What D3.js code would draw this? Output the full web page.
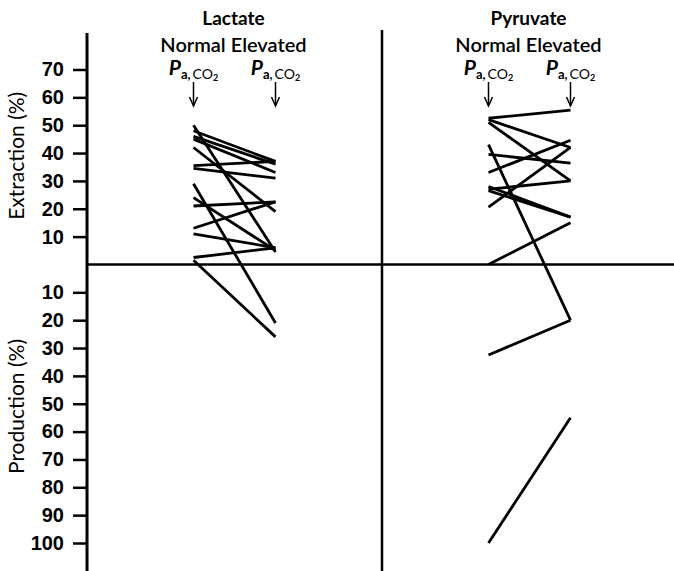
<!DOCTYPE html>
<html>
<head>
<meta charset="utf-8">
<script src="https://cdn.jsdelivr.net/npm/d3@7"></script>
<style>
  body { margin: 0; background: #fff; }
  svg { display: block; font-family: Lato, "Open Sans", sans-serif; }
</style>
</head>
<body>
<svg id="chart"></svg>
<script>
// Dữ liệu
const panels = ["Lactate", "Pyruvate"];
const conditions = ["Normal", "Elevated"];

const lactateNormal   = [50, 48, 46, 45, 42, 35.5, 34.5, 29, 24, 21, 13, 11, 2.5, 1.5];
const lactateElevated = [4.5, 37, 36, 33, 19, 37, 31, -21, 5, 22.5, 22.5, 6, 6, -26];

const pyruvateNormal   = [52.5, 52, 51, 43, 39.5, 33, 28, 26.5, 27, 20.6, 0, -32.5, -100];
const pyruvateElevated = [55.4, 42, 30, -20, 36.4, 44.6, 17, 17, 30, 42, 15, -20, -55];

const extractionTicks = [10, 20, 30, 40, 50, 60, 70];
const productionTicks = [-10, -20, -30, -40, -50, -60, -70, -80, -90, -100];

const width = 674, height = 571;
const axisX = 87, axisTop = 33;

const svg = d3.select("#chart")
    .attr("width", width)
    .attr("height", height);

// Thang đo
const y = d3.scaleLinear()
    .domain([-100, 70])
    .range([543, 69.5]);

const xPanel = d3.scaleBand()
    .domain(panels)
    .range([axisX, axisX + 590]);

const xCond = d3.scalePoint()
    .domain(conditions)
    .range([xPanel.bandwidth() / 2 - 41, xPanel.bandwidth() / 2 + 41]);

// Trục trái
const yAxis = d3.axisLeft(y)
    .tickValues(extractionTicks.concat(productionTicks))
    .tickFormat(d => Math.abs(d))
    .tickSize(14)
    .tickPadding(9);

const gAxis = svg.append("g")
    .attr("transform", `translate(${axisX},0)`)
    .call(yAxis);
gAxis.select(".domain").remove();
gAxis.selectAll(".tick line").attr("stroke", "#000").attr("stroke-width", 2.5);
gAxis.selectAll(".tick text")
    .attr("fill", "#000")
    .style("font-size", "20px")
    .style("font-weight", "bold");

svg.append("line")
    .attr("x1", axisX).attr("x2", axisX)
    .attr("y1", axisTop).attr("y2", height)
    .attr("stroke", "#000").attr("stroke-width", 3);

// Đường chia giữa
svg.append("line")
    .attr("x1", xPanel("Pyruvate")).attr("x2", xPanel("Pyruvate"))
    .attr("y1", 30).attr("y2", height)
    .attr("stroke", "#000").attr("stroke-width", 2.5);

// Đường 0
svg.append("line")
    .attr("x1", axisX).attr("x2", width)
    .attr("y1", y(0)).attr("y2", y(0))
    .attr("stroke", "#000").attr("stroke-width", 2.5);

// Tên trục
svg.append("text")
    .attr("transform", `translate(24,${y(39)}) rotate(-90)`)
    .attr("text-anchor", "middle")
    .style("font-size", "21px")
    .text("Extraction (%)");

svg.append("text")
    .attr("transform", `translate(24,${y(-51)}) rotate(-90)`)
    .attr("text-anchor", "middle")
    .style("font-size", "21px")
    .text("Production (%)");

// Các đường dốc
const series = {
    Lactate: [lactateNormal, lactateElevated],
    Pyruvate: [pyruvateNormal, pyruvateElevated]
};

panels.forEach(p => {
    const g = svg.append("g").attr("transform", `translate(${xPanel(p)},0)`);
    const [nv, ev] = series[p];
    const cx = xPanel.bandwidth() / 2;

    g.selectAll("line.slope")
        .data(nv.map((v, i) => ({ n: v, e: ev[i] })))
        .enter()
        .append("line")
        .attr("class", "slope")
        .attr("x1", xCond("Normal"))
        .attr("x2", xCond("Elevated"))
        .attr("y1", d => y(d.n))
        .attr("y2", d => y(d.e))
        .attr("stroke", "#000")
        .attr("stroke-width", 2.8);

    // Tiêu đề
    g.append("text")
        .attr("x", cx - 1).attr("y", 25)
        .attr("text-anchor", "middle")
        .style("font-size", "19px")
        .style("font-weight", "bold")
        .text(p);

    g.append("text")
        .attr("x", cx - 1).attr("y", 52)
        .attr("text-anchor", "middle")
        .style("font-size", "20px")
        .style("font-weight", "600")
        .text("Normal Elevated");

    conditions.forEach(c => {
        const x = xCond(c);
        const t = g.append("text")
            .attr("x", x).attr("y", 75)
            .attr("text-anchor", "middle")
            .style("font-weight", "bold");
        t.append("tspan").style("font-size", "21px").style("font-style", "italic").text("P");
        t.append("tspan").attr("dy", 4).style("font-size", "13px").text("a,");
        t.append("tspan").attr("dx", 2).style("font-size", "14px").style("font-weight", "normal").text("CO");
        t.append("tspan").attr("dy", 2).style("font-size", "9px").text("2");

        // Mũi tên
        g.append("line")
            .attr("x1", x).attr("x2", x)
            .attr("y1", 82).attr("y2", 106)
            .attr("stroke", "#000").attr("stroke-width", 1.5);
        g.append("path")
            .attr("d", `M${x - 4},97 L${x},106 L${x + 4},97`)
            .attr("fill", "none")
            .attr("stroke", "#000").attr("stroke-width", 1.5);
    });
});
</script>
</body>
</html>
